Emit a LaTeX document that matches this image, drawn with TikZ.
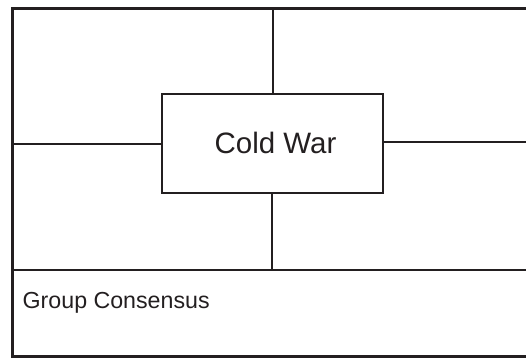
\documentclass[tikz,border=0pt]{standalone}
\usepackage{fontspec}
\setmainfont{Liberation Sans}
\definecolor{ink}{HTML}{231F20}
\begin{document}
\begin{tikzpicture}[x=1pt,y=-1pt,
  outer/.style={draw=ink,line width=3pt},
  thin/.style={draw=ink,line width=1.4pt},
  centerbox/.style={draw=ink,line width=1.4pt,minimum width=221pt,minimum height=99pt,inner sep=0pt,font=\fontsize{29.5}{34}\selectfont,text=ink},
  label/.style={anchor=base west,inner sep=0pt,font=\fontsize{23.2}{27}\selectfont,text=ink}]
\useasboundingbox (0,0) rectangle (526,358);
\clip (0,0) rectangle (526,358);
\coordinate (tl) at (12.5,9);
\coordinate (br) at (540,356.5);
\draw[outer] (tl) rectangle (br);
\node[centerbox] (cold) at (272.5,143.5) {\hspace*{6pt}\raisebox{1.5pt}{Cold War}};
\coordinate (topend) at (273,9);
\coordinate (divl) at (12.5,270);
\coordinate (divr) at (540,270);
\coordinate (botend) at (272,270);
\coordinate (leftend) at (12.5,144);
\coordinate (rightend) at (540,142);
\draw[thin] (divl) -- (divr);
\draw[thin] (cold.north -| topend) -- (topend);
\draw[thin] (cold.south -| botend) -- (botend);
\draw[thin] (cold.west |- leftend) -- (leftend);
\draw[thin] (cold.east |- rightend) -- (rightend);
\node[label] (gc) at (22.5,308.5) {Group Consensus};
\end{tikzpicture}
\end{document}
